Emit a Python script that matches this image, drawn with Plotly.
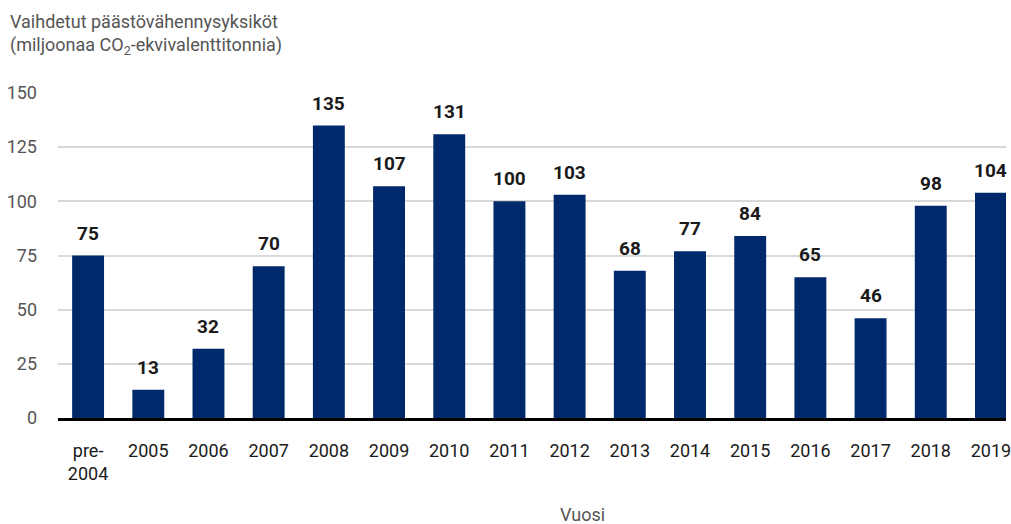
import plotly.graph_objects as go

# Vaihdetut päästövähennysyksiköt vuosittain (milj. t CO2-ekv.)
years = ["pre-<br>2004", "2005", "2006", "2007", "2008", "2009", "2010", "2011",
         "2012", "2013", "2014", "2015", "2016", "2017", "2018", "2019"]
values = [75, 13, 32, 70, 135, 107, 131, 100, 103, 68, 77, 84, 65, 46, 98, 104]
y_ticks = [0, 25, 50, 75, 100, 125, 150]

FONT = "Roboto, sans-serif"
BAR = "#00296b"
GREY = "#555555"

xs = list(range(len(years)))

fig = go.Figure(
    go.Bar(
        x=xs,
        y=values,
        marker=dict(color=BAR, line=dict(width=0)),
        width=0.53,
    )
)

# value labels above each bar
value_labels = [
    dict(
        x=x, y=v, xref="x", yref="y",
        text=str(v), showarrow=False,
        xanchor="center", yanchor="bottom", yshift=9,
        font=dict(family=FONT, size=19, color="#1a1a1a", weight="bold"),
    )
    for x, v in zip(xs, values)
]

fig.update_layout(
    width=1011,
    height=524,
    margin=dict(l=58, r=0, t=93, b=106),
    paper_bgcolor="white",
    plot_bgcolor="white",
    showlegend=False,
    font=dict(family=FONT, size=18, color="#1a1a1a"),
    xaxis=dict(
        tickmode="array",
        tickvals=xs,
        ticktext=years,
        range=[-0.5, 15.25],
        showgrid=False,
        zeroline=False,
        showline=True,
        linecolor="black",
        linewidth=3,
        ticks="",
        ticklabelstandoff=14,
        ticklabeloverflow="allow",
        tickfont=dict(family=FONT, size=18, color="#1a1a1a"),
    ),
    yaxis=dict(
        range=[0, 150],
        tickmode="array",
        tickvals=y_ticks,
        showgrid=True,
        gridcolor="#d9d9d9",
        gridwidth=1.5,
        zeroline=False,
        showline=False,
        ticks="",
        ticklabelstandoff=20,
        tickfont=dict(family=FONT, size=18, color=GREY),
    ),
    annotations=value_labels + [
        dict(
            text="Vaihdetut päästövähennysyksiköt<br>(miljoonaa CO<sub>2</sub>-ekvivalenttitonnia)",
            xref="paper", yref="paper",
            x=-0.0525, y=1.258,
            xanchor="left", yanchor="top", align="left",
            showarrow=False,
            font=dict(family=FONT, size=18, color=GREY),
        ),
        dict(
            text="Vuosi",
            xref="paper", yref="paper",
            x=0.553, y=-0.298,
            xanchor="center", yanchor="middle",
            showarrow=False,
            font=dict(family=FONT, size=18, color=GREY),
        ),
    ],
)

fig.write_html("out.html")
